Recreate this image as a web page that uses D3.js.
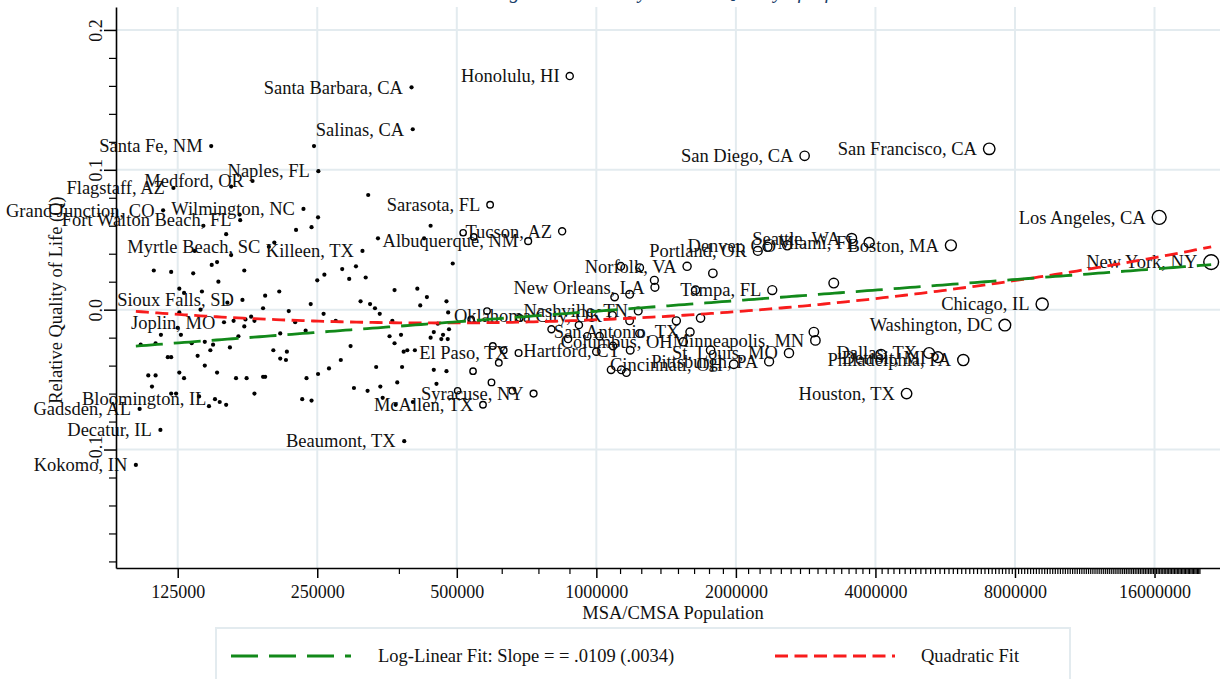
<!DOCTYPE html>
<html>
<head>
<meta charset="utf-8">
<script src="https://cdn.jsdelivr.net/npm/d3@7"></script>
<style>
  html, body { margin: 0; padding: 0; background: #fff; }
  svg { display: block; }
  text { font-family: "Liberation Serif", "Times New Roman", Times, serif; fill: #111; }
</style>
</head>
<body>
<svg id="chart" width="1220" height="679"></svg>
<script>
// ---- Data: metro areas with quality-of-life estimates (Q) and MSA/CMSA population ----
const labelledNames = [
  "Kokomo, IN", "Decatur, IL", "Gadsden, AL", "Bloomington, IL", "Joplin, MO", "Sioux Falls, SD",
  "Myrtle Beach, SC", "Killeen, TX", "Grand Junction, CO", "Fort Walton Beach, FL", "Wilmington, NC",
  "Flagstaff, AZ", "Medford, OR", "Naples, FL", "Santa Fe, NM", "Salinas, CA", "Santa Barbara, CA",
  "Honolulu, HI", "Sarasota, FL", "Tucson, AZ", "Albuquerque, NM", "Beaumont, TX", "McAllen, TX",
  "Syracuse, NY", "El Paso, TX", "Hartford, CT", "Columbus, OH", "San Antonio, TX", "Nashville, TN",
  "Oklahoma City, OK", "New Orleans, LA", "Norfolk, VA", "Portland, OR", "Denver, CO", "Seattle, WA",
  "Miami, FL", "Boston, MA", "San Diego, CA", "San Francisco, CA", "Los Angeles, CA", "New York, NY",
  "Chicago, IL", "Washington, DC", "Tampa, FL", "Cincinnati, OH", "Pittsburgh, PA", "St. Louis, MO",
  "Minneapolis, MN", "Dallas, TX", "Philadelphia, PA", "Detroit, MI", "Houston, TX"
];
const labelledPop = [
  101541, 114706, 103459, 150433, 157322, 172412,
  196629, 312952, 116255, 170498, 233450,
  122366, 181269, 251377, 147635, 401762, 399347,
  876156, 589959, 843746, 712738, 385090, 569463,
  732117, 679622, 1183110, 1540157, 1592383, 1231311,
  1083346, 1337726, 1569541, 2230000, 2581506, 3554760,
  3876380, 5819100, 2813833, 7039362, 16373645, 21199865,
  9157540, 7608070, 2395997, 1979202, 2358695, 2603607,
  2968806, 5221801, 6188463, 5456428, 4669571
];
const labelledQ = [
  -0.111, -0.086, -0.071, -0.064, -0.009, 0.007,
  0.045, 0.042, 0.071, 0.064, 0.072,
  0.087, 0.092, 0.099, 0.117, 0.129, 0.159,
  0.167, 0.075, 0.056, 0.049, -0.094, -0.068,
  -0.060, -0.031, -0.029, -0.023, -0.016, -0.001,
  -0.004, 0.016, 0.031, 0.042, 0.046, 0.051,
  0.048, 0.046, 0.110, 0.115, 0.066, 0.034,
  0.004, -0.011, 0.014, -0.039, -0.037, -0.031,
  -0.022, -0.031, -0.036, -0.034, -0.060
];

// Remaining metro areas (unlabelled), population and Q
const otherPop = [
  246000, 163000, 322000, 170000, 251000, 142000, 243000, 225000, 159000, 202000,
  338000, 439000, 425000, 136000, 163000, 490000, 111000, 121000, 135000, 148000,
  152000, 174000, 153000, 126000, 129000, 141000, 283000, 303000, 259000, 250000,
  293000, 318000, 367000, 411000, 431000, 417000, 475000, 193000, 207000, 191000,
  160000, 140000, 126000, 217000, 242000, 310000, 325000, 333000, 341000, 258000,
  224000, 274000, 363000, 455000, 479000, 165000, 175000, 183000, 174000, 125000,
  127000, 115000, 112000, 104000, 134000, 143000, 149000, 169000, 208000, 236000,
  439000, 463000, 467000, 481000, 478000, 446000, 358000, 379000, 367000, 295000,
  162000, 147000, 138000, 119000, 121000, 201000, 208000, 215000, 214000, 384000,
  391000, 406000, 281000, 143000, 126000, 129000, 108000, 112000, 110000, 152000,
  167000, 176000, 191000, 193000, 265000, 251000, 237000, 335000, 381000, 446000,
  475000, 452000, 300000, 321000, 342000, 372000, 346000, 369000, 402000, 183000,
  232000, 243000, 121000, 124000, 139000, 146000, 154000, 159000, 180000,
  516000, 544000, 1129000, 1240000, 1784000, 1334000, 1095000, 1180000, 1637000, 3252000,
  1678000, 1488000, 1180000, 917000, 800000, 869000, 956000, 1016000, 1240000, 1086000,
  1000000, 1764000, 1076000, 1132000, 1161000, 542000, 594000, 502000, 659000, 598000,
  631000, 616000, 537000, 581000, 683000, 4112000, 2946000, 2340000
];
const otherQ = [
  0.117, 0.088, 0.082, 0.068, 0.066, 0.060, 0.059, 0.057, 0.054, 0.048,
  0.051, 0.060, 0.051, 0.042, 0.039, 0.033, 0.028, 0.027, 0.026, 0.032,
  0.034, 0.028, 0.020, 0.015, 0.012, 0.013, 0.029, 0.031, 0.025, 0.021,
  0.022, 0.023, 0.014, 0.015, 0.009, 0.003, 0.006, 0.010, 0.013, 0.001,
  0.005, 0.000, -0.002, -0.001, 0.004, 0.006, 0.004, 0.001, -0.003, -0.003,
  -0.009, -0.008, -0.008, -0.010, -0.002, -0.008, -0.007, -0.008, -0.012, -0.013,
  -0.018, -0.018, -0.024, -0.025, -0.024, -0.023, -0.025, -0.019, -0.017, -0.015,
  -0.020, -0.021, -0.018, -0.014, -0.021, -0.016, -0.019, -0.018, -0.024, -0.026,
  -0.027, -0.029, -0.033, -0.034, -0.034, -0.029, -0.035, -0.030, -0.036, -0.030,
  -0.029, -0.029, -0.036, -0.040, -0.045, -0.049, -0.047, -0.047, -0.055, -0.045,
  -0.049, -0.049, -0.048, -0.048, -0.042, -0.046, -0.049, -0.041, -0.041, -0.043,
  -0.044, -0.053, -0.056, -0.058, -0.055, -0.052, -0.063, -0.068, -0.066, -0.060,
  -0.064, -0.065, -0.060, -0.060, -0.062, -0.069, -0.066, -0.068, -0.005,
  0.055, 0.052, 0.031, 0.030, 0.026, 0.021, 0.009, 0.011, 0.014, 0.019,
  -0.006, -0.008, -0.008, -0.011, -0.014, -0.021, -0.019, -0.019, -0.017, -0.026,
  -0.030, -0.029, -0.043, -0.043, -0.045, -0.044, -0.052, -0.058, -0.058, -0.026,
  -0.029, -0.038, -0.007, -0.001, -0.006, -0.032, -0.016, 0.045
];

// Axis ticks
const xTickValues = [125000, 250000, 500000, 1000000, 2000000, 4000000, 8000000, 16000000];
const yTickValues = [-0.1, 0.0, 0.1, 0.2];
const legendLabels = ["Log-Linear Fit: Slope = = .0109 (.0034)", "Quadratic Fit"];

// Fitted curves: Q = a + b*ln(pop);  Q = c0 + c1*u + c2*u^2 with u = ln(pop/125000)
const logLinearFit = { a: -0.1517, b: 0.0109 };
const quadraticFit = { c0: -0.00335, c1: -0.00954, c2: 0.00369 };

// ---- Layout ----
const svg = d3.select("#chart");
const plot = { left: 116, right: 1220, top: 7, bottom: 568 };
const gridColor = "#e3ebef";
const greenCol = "#12891a";
const redCol = "#f81c1c";

const x = d3.scaleLog().base(2).domain([92000, 22150000]).range([plot.left, plot.right]);
const y = d3.scaleLinear().domain([-0.1847, 0.2164]).range([plot.bottom, plot.top]);
const rScale = d3.scalePow().exponent(0.23).domain([0, 21200000]).range([0, 7.4]);
const dotR = 2.1;
const isLarge = p => p >= 500000;
const markR = p => isLarge(p) ? rScale(p) : dotR;

// Title (sits above the frame)
svg.append("text")
  .attr("x", 453).attr("y", -2)
  .style("font-style", "italic").style("font-size", "20px").style("fill", "#1a3f6a")
  .text("Ranking Metro Areas by Relative Quality of Life");

// Grid lines
const grid = svg.append("g");
grid.selectAll("line.gx").data(xTickValues).join("line")
  .attr("x1", d => x(d)).attr("x2", d => x(d))
  .attr("y1", plot.top).attr("y2", plot.bottom)
  .attr("stroke", gridColor).attr("stroke-width", 2);
grid.selectAll("line.gy").data(yTickValues).join("line")
  .attr("x1", plot.left).attr("x2", plot.right)
  .attr("y1", d => y(d)).attr("y2", d => y(d))
  .attr("stroke", gridColor).attr("stroke-width", 2);

// Points
const allCities = labelledNames.map((n, i) => ({ name: n, pop: labelledPop[i], q: labelledQ[i] }))
  .concat(otherPop.map((p, i) => ({ name: "", pop: p, q: otherQ[i] })));

const marks = svg.append("g");
marks.selectAll("circle.small").data(allCities.filter(d => !isLarge(d.pop))).join("circle")
  .attr("cx", d => x(d.pop)).attr("cy", d => y(d.q)).attr("r", dotR)
  .attr("fill", "#000");
marks.selectAll("circle.large").data(allCities.filter(d => isLarge(d.pop))).join("circle")
  .attr("cx", d => x(d.pop)).attr("cy", d => y(d.q)).attr("r", d => rScale(d.pop))
  .attr("fill", "none").attr("stroke", "#000").attr("stroke-width", 1.4);

// City labels, placed to the left of each marker
svg.append("g").selectAll("text").data(allCities.filter(d => d.name)).join("text")
  .attr("x", d => x(d.pop) - markR(d.pop) - 6.5)
  .attr("y", d => y(d.q))
  .attr("dy", "0.34em")
  .attr("text-anchor", "end")
  .style("font-size", "18.5px")
  .text(d => d.name);

// Fitted curves
const popMin = d3.min(allCities, d => d.pop);
const popMax = d3.max(allCities, d => d.pop);
const samples = d3.range(0, 201).map(i => popMin * Math.pow(popMax / popMin, i / 200));
const logLin = p => logLinearFit.a + logLinearFit.b * Math.log(p);
const quad = p => {
  const u = Math.log(p / 125000);
  return quadraticFit.c0 + quadraticFit.c1 * u + quadraticFit.c2 * u * u;
};
const curve = f => d3.line().x(p => x(p)).y(p => y(f(p)))(samples);

svg.append("path").attr("d", curve(quad))
  .attr("fill", "none").attr("stroke", redCol).attr("stroke-width", 2.8)
  .attr("stroke-dasharray", "13,6.5");
svg.append("path").attr("d", curve(logLin))
  .attr("fill", "none").attr("stroke", greenCol).attr("stroke-width", 2.8)
  .attr("stroke-dasharray", "27,11");

// X axis: major ticks at powers of two, minor ticks every 125,000
const xMinor = d3.range(1, 161).map(k => k * 125000).filter(v => !xTickValues.includes(v));
svg.append("g").attr("transform", `translate(0,${plot.bottom})`)
  .call(d3.axisBottom(x).tickValues(xMinor).tickSize(6).tickSizeOuter(0).tickFormat(""))
  .call(g => g.select(".domain").remove())
  .call(g => g.selectAll(".tick line").attr("stroke", "#000").attr("stroke-width", 1.2));
const xAxis = svg.append("g").attr("transform", `translate(0,${plot.bottom})`)
  .call(d3.axisBottom(x).tickValues(xTickValues).tickSize(10).tickSizeOuter(0)
    .tickFormat(d => String(d)));
xAxis.select(".domain").attr("stroke", "#000").attr("stroke-width", 1.6);
xAxis.selectAll(".tick line").attr("stroke", "#000").attr("stroke-width", 1.5);
xAxis.selectAll(".tick text").attr("y", 17).attr("dy", "0.71em")
  .style("font-size", "18px").style("font-family", "Liberation Serif").attr("fill", "#111");

// Y axis: major ticks every 0.1, minor every 0.02
const yMinor = d3.range(-9, 10).map(k => k * 0.02).filter(v => Math.abs(Math.round(v * 50) % 5) !== 0);
svg.append("g").attr("transform", `translate(${plot.left},0)`)
  .call(d3.axisLeft(y).tickValues(yMinor).tickSize(7).tickSizeOuter(0).tickFormat(""))
  .call(g => g.select(".domain").remove())
  .call(g => g.selectAll(".tick line").attr("stroke", "#000").attr("stroke-width", 1.2));
const yAxis = svg.append("g").attr("transform", `translate(${plot.left},0)`)
  .call(d3.axisLeft(y).tickValues(yTickValues).tickSize(12).tickSizeOuter(0)
    .tickFormat(d => d.toFixed(1)));
yAxis.select(".domain").attr("stroke", "#000").attr("stroke-width", 1.6);
yAxis.selectAll(".tick line").attr("stroke", "#000").attr("stroke-width", 1.5);
yAxis.selectAll(".tick text")
  .attr("transform", "rotate(-90)")
  .attr("x", 0).attr("y", -14).attr("dy", 0)
  .attr("text-anchor", "middle")
  .style("font-size", "18px").style("font-family", "Liberation Serif").attr("fill", "#111");

// Axis titles
svg.append("text").attr("x", 673).attr("y", 619).attr("text-anchor", "middle")
  .style("font-size", "18.5px").text("MSA/CMSA Population");
svg.append("text").attr("transform", "translate(62,300) rotate(-90)").attr("text-anchor", "middle")
  .style("font-size", "18.5px").text("Relative Quality of Life (Q)");

// Legend
const legend = svg.append("g");
legend.append("rect").attr("x", 216).attr("y", 628).attr("width", 854).attr("height", 70)
  .attr("fill", "#fff").attr("stroke", gridColor).attr("stroke-width", 2);
const legendItems = [
  { label: legendLabels[0], color: greenCol, dash: "27,11", x0: 231, tx: 378 },
  { label: legendLabels[1], color: redCol, dash: "13,6.5", x0: 775, tx: 921 }
];
legendItems.forEach(it => {
  legend.append("line").attr("x1", it.x0).attr("x2", it.x0 + 120).attr("y1", 656).attr("y2", 656)
    .attr("stroke", it.color).attr("stroke-width", 2.8).attr("stroke-dasharray", it.dash);
  legend.append("text").attr("x", it.tx).attr("y", 656).attr("dy", "0.34em")
    .style("font-size", "18.5px").text(it.label);
});
</script>
</body>
</html>
